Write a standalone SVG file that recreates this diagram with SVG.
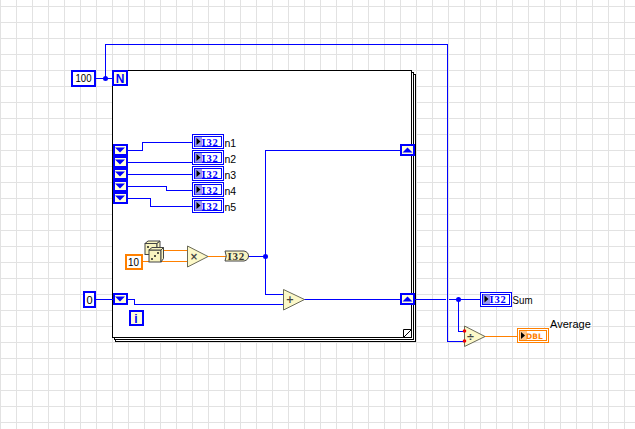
<svg xmlns="http://www.w3.org/2000/svg" width="635" height="429" viewBox="0 0 635 429">
<style>
.g{stroke:#e2e2e2;stroke-width:1;fill:none;shape-rendering:crispEdges}
.w{fill:none;stroke:#0000ff;stroke-width:1;shape-rendering:crispEdges}
.o{fill:none;stroke:#ff8000;stroke-width:1;shape-rendering:crispEdges}
.f{fill:#fff;stroke:#000;stroke-width:1;shape-rendering:crispEdges}
.b{fill:#fff;stroke:#0000ff;stroke-width:2;shape-rendering:crispEdges}
.bo{fill:#fff;stroke:#ff8000;stroke-width:2;shape-rendering:crispEdges}
.t{font-family:"Liberation Sans",Arial,sans-serif;font-size:10.5px;fill:#000}
.c{font-family:"Liberation Sans",Arial,sans-serif;font-size:11px;fill:#000;text-anchor:middle}
.tb{font-family:"Liberation Serif",serif;font-size:10.5px;font-weight:bold;fill:#0000ff;letter-spacing:.8px}
.tt{font-family:"DejaVu Sans",sans-serif;font-size:7.5px;font-weight:bold;fill:#ff8000}
.prim{fill:#fcf8c8;stroke:#6a6a58;stroke-width:1}
.reg{fill:#0000ff;stroke:none}
.sym{font-family:"DejaVu Sans",sans-serif;font-size:10px;font-weight:bold;fill:#444;text-anchor:middle}
.term{fill:#ffffd8;stroke:#0000ff;stroke-width:2;shape-rendering:crispEdges}
.ind{fill:#fff;stroke:#0000ff;stroke-width:1;shape-rendering:crispEdges}
.d{fill:#f8f4c0;stroke:#444;stroke-width:1}
.pip{fill:#222}
</style>
<defs>
<path id="grid" d="M.5 0V429M16.5 0V429M32.5 0V429M48.5 0V429M64.5 0V429M80.5 0V429M96.5 0V429M112.5 0V429M128.5 0V429M144.5 0V429M160.5 0V429M176.5 0V429M192.5 0V429M208.5 0V429M224.5 0V429M240.5 0V429M256.5 0V429M272.5 0V429M288.5 0V429M304.5 0V429M320.5 0V429M336.5 0V429M352.5 0V429M368.5 0V429M384.5 0V429M400.5 0V429M416.5 0V429M432.5 0V429M448.5 0V429M464.5 0V429M480.5 0V429M496.5 0V429M512.5 0V429M528.5 0V429M544.5 0V429M560.5 0V429M576.5 0V429M592.5 0V429M608.5 0V429M624.5 0V429M0 6.500H635M0 22.500H635M0 38.500H635M0 54.500H635M0 70.500H635M0 86.500H635M0 102.500H635M0 118.500H635M0 134.500H635M0 150.500H635M0 166.500H635M0 182.500H635M0 198.500H635M0 214.500H635M0 230.500H635M0 246.500H635M0 262.500H635M0 278.500H635M0 294.500H635M0 310.500H635M0 326.500H635M0 342.500H635M0 358.500H635M0 374.500H635M0 390.500H635M0 406.500H635M0 422.500H635"/>
<g id="i32ind">
<rect class="ind" x="0" y="0" width="31" height="14"/>
<rect x="2" y="2" width="27" height="10" fill="#fff" stroke="#0000ff" stroke-width="1" shape-rendering="crispEdges"/>
<rect x="2.500" y="2.500" width="7" height="9.500" fill="#9999ee"/>
<path d="M4 3.500L8 7L4 10.500Z" fill="#000"/>
<text class="tb" x="9" y="11">I32</text>
</g>
<g id="regdown"><rect class="term" x="1" y="1" width="13" height="10" fill="#fff"/><path class="reg" d="M2.500 3.500H12.500L7.500 8.500Z"/></g>
<g id="regup"><rect class="term" x="1" y="1" width="13" height="10"/><path class="reg" d="M2.500 8.500H12.500L7.500 3.500Z"/></g>
</defs>
<rect width="635" height="429" fill="#fff"/>
<use href="#grid" class="g"/>
<g id="for-loop">
<rect class="f" x="115.500" y="74.500" width="300" height="267"/>
<rect class="f" x="114.500" y="72.500" width="299" height="267"/>
<rect class="f" x="112.500" y="70.500" width="299" height="267"/>
<path d="M403.500 337.500V329.500H411.500L403.500 337.500Z" fill="#fff" stroke="#000" stroke-width="1"/>
</g>
<g id="connectors">
<path class="w" d="M96 78.500H113M105.500 78.500V44.500H447.500V341.500H464M95 299.500H113"/>
<path class="w" d="M127 150.500H142.500V142.500H193M127 162.500H193M127 174.500H193M127 186.500H166.500V190.500H193M127 198.500H150.500V206.500H193"/>
<path class="w" d="M127 299.500H134.500V304.500H284"/>
<path class="o" d="M163 250.500H188M142 261.500H188M207 256.500H226"/>
<path class="w" d="M248 256.500H265.500M265.500 150V294.500H284M265.500 150.500H401"/>
<path class="w" d="M304 299.500H401M415 299.500H446M449 299.500H481M458.500 299.500V331.500H464"/>
<path class="o" d="M484 336.500H518"/>
<circle cx="105.500" cy="78.500" r="2.500" fill="#0000ff"/>
<circle cx="265.500" cy="256.500" r="2.500" fill="#0000ff"/>
<circle cx="458.500" cy="299.500" r="2.500" fill="#0000ff"/>
</g>
<g id="const-100"><rect class="b" x="72" y="71" width="23" height="15"/><text class="c" x="83.500" y="82" textLength="16" lengthAdjust="spacingAndGlyphs">100</text></g>
<g id="count-n"><rect class="term" x="113" y="71" width="14" height="14"/><text x="120" y="82.500" font-family="Liberation Sans,sans-serif" font-size="12" font-weight="bold" fill="#0000ff" text-anchor="middle">N</text></g>
<g id="sr1"><use href="#regdown" x="112.500" y="144"/></g>
<g id="sr2"><use href="#regdown" x="112.500" y="156"/></g>
<g id="sr3"><use href="#regdown" x="112.500" y="168"/></g>
<g id="sr4"><use href="#regdown" x="112.500" y="180"/></g>
<g id="sr5"><use href="#regdown" x="112.500" y="192"/></g>
<g id="n1"><use href="#i32ind" x="192.500" y="134.500"/><text class="t" x="224.500" y="147">n1</text></g>
<g id="n2"><use href="#i32ind" x="192.500" y="150.500"/><text class="t" x="224.500" y="163">n2</text></g>
<g id="n3"><use href="#i32ind" x="192.500" y="166.500"/><text class="t" x="224.500" y="179">n3</text></g>
<g id="n4"><use href="#i32ind" x="192.500" y="182.500"/><text class="t" x="224.500" y="195">n4</text></g>
<g id="n5"><use href="#i32ind" x="192.500" y="198.500"/><text class="t" x="224.500" y="211">n5</text></g>
<g id="const-10"><rect class="bo" x="125.500" y="255" width="16" height="14"/><text class="c" x="133.500" y="266" textLength="11" lengthAdjust="spacingAndGlyphs">10</text></g>
<g id="random">
<rect class="d" x="145" y="243.500" width="12" height="11"/>
<path class="d" d="M145 243.500L148 241H160L157 243.500Z"/>
<path class="d" d="M157 243.500L160 241V250L157 254.500Z"/>
<rect class="d" x="149" y="250" width="12" height="12"/>
<path class="d" d="M149 250L152 247.500H163.500L161 250Z"/>
<path class="d" d="M161 250L163.500 247.500V258.500L161 262Z"/>
<circle class="pip" cx="148" cy="247" r="1"/><circle class="pip" cx="152" cy="259" r="1"/><circle class="pip" cx="155" cy="256" r="1"/><circle class="pip" cx="158" cy="253" r="1"/>
</g>
<g id="multiply"><path class="prim" d="M187.500 246V267L208 256.500Z"/><text class="sym" x="194" y="260">×</text></g>
<g id="to-i32"><path d="M225 251H244Q248.500 252 248.500 256Q248.500 260 244 261H225Q227.500 256 225 251Z" fill="#f8f4c0" stroke="#444" stroke-width="1"/><text x="227.500" y="260" font-family="Liberation Serif,serif" font-size="11" font-weight="bold" letter-spacing=".7" fill="#333">I32</text></g>
<g id="const-0"><rect class="b" x="84" y="292" width="11" height="15"/><text class="c" x="89.500" y="303.500">0</text></g>
<g id="sr-in"><use href="#regdown" x="112.500" y="293"/></g>
<g id="iter-i"><rect class="term" x="129.500" y="311" width="13" height="14"/><text x="136" y="322.500" font-family="Liberation Sans,sans-serif" font-size="12" font-weight="bold" fill="#0000ff" text-anchor="middle">i</text></g>
<g id="add"><path class="prim" d="M283.500 289.500V310L304.500 299.500Z"/><text class="sym" x="290" y="303">+</text></g>
<g id="sr-out1"><use href="#regup" x="400" y="144"/></g>
<g id="sr-out2"><use href="#regup" x="400" y="293"/></g>
<g id="sum"><use href="#i32ind" x="480.500" y="292"/><text class="t" x="512.500" y="303.500" textLength="20" lengthAdjust="spacingAndGlyphs">Sum</text></g>
<g id="divide"><path class="prim" d="M464.500 326V346.500L485 336.500Z"/><text class="sym" x="470.500" y="340">÷</text><circle cx="464.500" cy="331" r="1.800" fill="#ee0000"/><circle cx="464.500" cy="341" r="1.800" fill="#ee0000"/></g>
<g id="average">
<rect x="517.500" y="328.500" width="31" height="14" fill="#fff" stroke="#ff8000" stroke-width="1" shape-rendering="crispEdges"/>
<rect x="519.500" y="330.500" width="27" height="10" fill="#fff" stroke="#ff8000" stroke-width="1" shape-rendering="crispEdges"/>
<rect x="520" y="331" width="7" height="9" fill="#ffc890"/>
<path d="M521 332L525 335.500L521 339Z" fill="#000"/>
<text class="tt" x="526" y="339">DBL</text>
<text class="t" x="550" y="327.500" style="font-size:11px">Average</text>
</g>
</svg>
